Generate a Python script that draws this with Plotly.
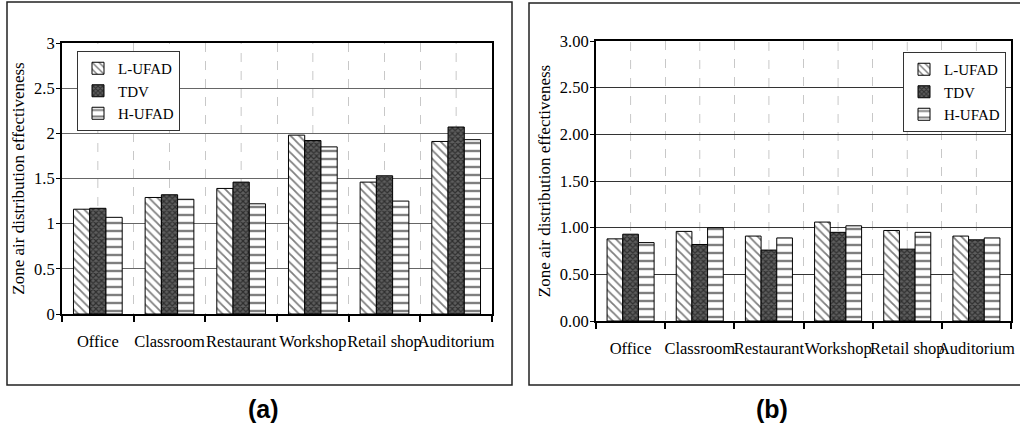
import plotly.graph_objects as go

# Zone air distribution effectiveness by building type
categories = ["Office", "Classroom", "Restaurant", "Workshop", "Retail shop", "Auditorium"]
series_names = ["L-UFAD", "TDV", "H-UFAD"]

# (a) cooling
a_lufad = [1.16, 1.29, 1.39, 1.98, 1.46, 1.91]
a_tdv = [1.17, 1.32, 1.46, 1.92, 1.53, 2.07]
a_hufad = [1.07, 1.27, 1.22, 1.85, 1.25, 1.93]

# (b) heating
b_lufad = [0.88, 0.96, 0.91, 1.06, 0.97, 0.91]
b_tdv = [0.93, 0.82, 0.76, 0.95, 0.77, 0.87]
b_hufad = [0.84, 1.00, 0.89, 1.02, 0.95, 0.89]

W, H = 1020, 423
SERIF = "Liberation Serif, Times New Roman, serif"

patterns = [
    dict(shape="\\", fgcolor="black", bgcolor="white", size=6, solidity=0.3),
    dict(shape="x", fgcolor="black", bgcolor="#5e5e5e", size=4, solidity=0.5),
    dict(shape="-", fgcolor="black", bgcolor="white", size=8, solidity=0.3),
]

fig = go.Figure()


def add_panel(values, xa, ya, legend_id):
    for name, vals, pat in zip(series_names, values, patterns):
        fig.add_trace(go.Bar(
            x=categories, y=vals, name=name,
            xaxis=xa, yaxis=ya, legend=legend_id,
            marker=dict(color="white", pattern=pat,
                        line=dict(color="black", width=1)),
        ))


add_panel([a_lufad, a_tdv, a_hufad], "x", "y", "legend")
add_panel([b_lufad, b_tdv, b_hufad], "x2", "y2", "legend2")


def px_dom(lo, hi, total):
    return [lo / total, hi / total]


def py_dom(top, bottom):
    return [1 - bottom / H, 1 - top / H]


xcommon = dict(
    type="category", tickson="boundaries", ticks="outside", ticklen=6,
    tickcolor="black", tickwidth=1.5, tickangle=0, automargin=False,
    showgrid=True, gridcolor="#c8c8c8", griddash="dash", gridwidth=1,
    showline=True, linecolor="black", linewidth=2, mirror=True,
    tickfont=dict(family=SERIF, size=16.5, color="black"),
    ticklabelstandoff=11,
)
ycommon = dict(
    range=[0, 3], dtick=0.5, ticks="outside", ticklen=4, automargin=False,
    tickcolor="black", showgrid=True, gridwidth=1,
    showline=True, linecolor="black", linewidth=2, mirror=True,
    tickfont=dict(family=SERIF, size=16.5, color="black"),
    ticklabelstandoff=-2,
    title=dict(text="Zone air distribution effectiveness",
               font=dict(family=SERIF, size=17, color="black"), standoff=5),
    zeroline=False,
)

legend_common = dict(
    yanchor="top", bgcolor="white", bordercolor="#333333", borderwidth=1,
    font=dict(family=SERIF, size=15, color="black"),
    tracegroupgap=0, itemwidth=30,
)

fig.update_layout(
    width=W, height=H,
    margin=dict(l=0, r=0, t=0, b=0, autoexpand=False),
    paper_bgcolor="white", plot_bgcolor="white",
    barmode="group", bargap=0.32, bargroupgap=0,
    showlegend=True,
    xaxis=dict(domain=px_dom(62, 492, W), anchor="y", **xcommon),
    yaxis=dict(domain=py_dom(43, 314), anchor="x", gridcolor="#666666",
               **ycommon),
    xaxis2=dict(domain=px_dom(596, 1011, W), anchor="y2", **xcommon),
    yaxis2=dict(domain=py_dom(41, 321), anchor="x2", gridcolor="#333333",
                tickformat=".2f", **ycommon),
    legend=dict(x=77 / W, y=1 - 51 / H, xanchor="left", **legend_common),
    legend2=dict(x=1006 / W, y=1 - 52 / H, xanchor="right", **legend_common),
)

# dashed vertical guides through each category centre
shapes = []
for xref, yref in (("x", "y domain"), ("x2", "y2 domain")):
    for c in categories:
        shapes.append(dict(type="line", xref=xref, yref=yref, x0=c, x1=c,
                           y0=0, y1=1, layer="below",
                           line=dict(color="#c8c8c8", width=1, dash="dash")))

# outer frames around each panel
shapes.append(dict(type="rect", xref="paper", yref="paper",
                   x0=7 / W, x1=512 / W, y0=1 - 385 / H, y1=1 - 2 / H,
                   line=dict(color="#222222", width=1.5)))
shapes.append(dict(type="rect", xref="paper", yref="paper",
                   x0=529 / W, x1=1025 / W, y0=1 - 385 / H, y1=1 - 3 / H,
                   line=dict(color="#222222", width=1.5)))
fig.update_layout(shapes=shapes)

for label, cx in (("(a)", 263), ("(b)", 772)):
    fig.add_annotation(text=f"<b>{label}</b>", xref="paper", yref="paper",
                       x=cx / W, y=1 - 409 / H, xanchor="center", yanchor="middle",
                       showarrow=False,
                       font=dict(family="Liberation Sans, Arial, sans-serif",
                                 size=25, color="black"))

fig.write_html("out.html")
